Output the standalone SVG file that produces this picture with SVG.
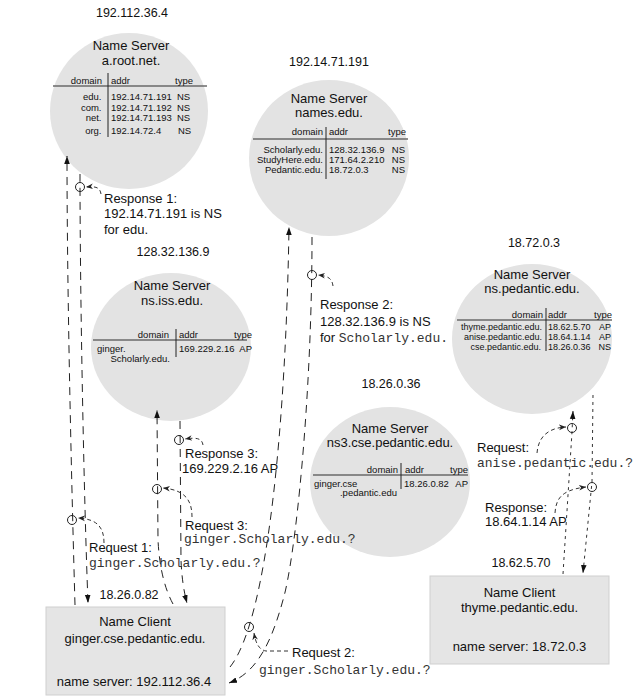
<svg xmlns="http://www.w3.org/2000/svg" width="640" height="700" viewBox="0 0 640 700">
<defs>
<style>
.t{font-family:"Liberation Sans",Arial,sans-serif;fill:#111}
.ip{font-size:12.5px;text-anchor:middle}
.ns{font-size:13px;text-anchor:middle}
.tb{font-size:9.5px}
.tc{font-size:9px}
.e{text-anchor:end}
.lb{font-size:13px}
.m{font-family:"Liberation Mono","DejaVu Sans Mono",monospace;font-size:13px;fill:#333}
.bub{fill:#e3e3e3}
.box{fill:#e5e5e5;stroke:#cfcfcf;stroke-width:1}
.hl{stroke:#6a6a6a;stroke-width:1.5}
.vl{stroke:#222;stroke-width:1}
.dash{fill:none;stroke:#222;stroke-width:1;stroke-dasharray:8 6}
.dot{fill:none;stroke:#333;stroke-width:1;stroke-dasharray:3 4}
.call{fill:none;stroke:#333;stroke-width:1;stroke-dasharray:4 3}
.mk{fill:none;stroke:#222;stroke-width:1}
</style>
<marker id="ah" viewBox="0 0 10 10" refX="10" refY="5" markerWidth="8" markerHeight="8" markerUnits="userSpaceOnUse" orient="auto"><path d="M0,1.5 L10,5 L0,8.5 z" fill="#111"/></marker>
<marker id="ch" viewBox="0 0 10 10" refX="10" refY="5" markerWidth="7" markerHeight="7" markerUnits="userSpaceOnUse" orient="auto"><path d="M0,1 L10,5 L0,9 L3,5 z" fill="#222"/></marker>
</defs>
<rect width="640" height="700" fill="#fff"/>

<g id="root">
<ellipse class="bub" cx="129" cy="111" rx="79" ry="78"/>
<text class="t ip" x="132" y="17">192.112.36.4</text>
<text class="t ns" x="131" y="50">Name Server</text>
<text class="t ns" x="131" y="65">a.root.net.</text>
<line class="hl" x1="53" y1="86" x2="207" y2="86"/>
<line class="vl" x1="108" y1="73" x2="108" y2="137"/>
<text class="t tb e" x="102" y="84">domain</text>
<text class="t tb" x="111" y="84">addr</text>
<text class="t tb" x="175" y="84">type</text>
<text class="t tb e" x="101.5" y="100">edu.</text><text class="t tb" x="111" y="100">192.14.71.191</text><text class="t tb" x="177" y="100">NS</text>
<text class="t tb e" x="101.5" y="110.5">com.</text><text class="t tb" x="111" y="110.5">192.14.71.192</text><text class="t tb" x="177" y="110.5">NS</text>
<text class="t tb e" x="101.5" y="120.5">net.</text><text class="t tb" x="111" y="120.5">192.14.71.193</text><text class="t tb" x="177" y="120.5">NS</text>
<text class="t tb e" x="101.5" y="134">org.</text><text class="t tb" x="111" y="134">192.14.72.4</text><text class="t tb" x="178" y="134">NS</text>
</g>

<g id="names">
<ellipse class="bub" cx="329" cy="158" rx="80" ry="78"/>
<text class="t ip" x="329" y="66">192.14.71.191</text>
<text class="t ns" x="329" y="103">Name Server</text>
<text class="t ns" x="329" y="117">names.edu.</text>
<line class="hl" x1="253" y1="139" x2="408" y2="139"/>
<line class="vl" x1="326" y1="127" x2="326" y2="179"/>
<text class="t tb e" x="323" y="135">domain</text>
<text class="t tb" x="329" y="135">addr</text>
<text class="t tb e" x="406" y="135">type</text>
<text class="t tb e" x="323" y="152.5">Scholarly.edu.</text><text class="t tb" x="329" y="152.5">128.32.136.9</text><text class="t tb e" x="405" y="152.5">NS</text>
<text class="t tb e" x="323" y="162.5">StudyHere.edu.</text><text class="t tb" x="329" y="162.5">171.64.2.210</text><text class="t tb e" x="405" y="162.5">NS</text>
<text class="t tb e" x="323" y="172.5">Pedantic.edu.</text><text class="t tb" x="329" y="172.5">18.72.0.3</text><text class="t tb e" x="405" y="172.5">NS</text>
</g>

<g id="iss">
<ellipse class="bub" cx="171" cy="347" rx="80" ry="74"/>
<text class="t ip" x="173" y="256">128.32.136.9</text>
<text class="t ns" x="172" y="290">Name Server</text>
<text class="t ns" x="172" y="305">ns.iss.edu.</text>
<line class="hl" x1="93" y1="340" x2="247" y2="340"/>
<line class="vl" x1="176" y1="329" x2="176" y2="357"/>
<text class="t tb e" x="169" y="337.5">domain</text>
<text class="t tb" x="179" y="337.5">addr</text>
<text class="t tb e" x="252" y="337.5">type</text>
<text class="t tb" x="97" y="351.5">ginger.</text>
<text class="t tb e" x="170" y="361.5">Scholarly.edu.</text>
<text class="t tb" x="179" y="351.5">169.229.2.16</text><text class="t tb e" x="252" y="351.5">AP</text>
</g>

<g id="pedantic">
<ellipse class="bub" cx="532" cy="339" rx="80" ry="75"/>
<text class="t ip" x="534" y="247">18.72.0.3</text>
<text class="t ns" x="532" y="279">Name Server</text>
<text class="t ns" x="532" y="293">ns.pedantic.edu.</text>
<line class="hl" x1="457" y1="320" x2="612" y2="320"/>
<line class="vl" x1="546" y1="308" x2="546" y2="351"/>
<text class="t tb e" x="543" y="318">domain</text>
<text class="t tb" x="548" y="318">addr</text>
<text class="t tb e" x="612" y="318">type</text>
<text class="t tc e" x="542" y="330">thyme.pedantic.edu.</text><text class="t tc" x="548" y="330">18.62.5.70</text><text class="t tc e" x="611" y="330">AP</text>
<text class="t tc e" x="542" y="340">anise.pedantic.edu.</text><text class="t tc" x="548" y="340">18.64.1.14</text><text class="t tc e" x="611" y="340">AP</text>
<text class="t tc e" x="541" y="350">cse.pedantic.edu.</text><text class="t tc" x="548" y="350">18.26.0.36</text><text class="t tc e" x="611" y="350">NS</text>
</g>

<g id="ns3">
<ellipse class="bub" cx="390" cy="482" rx="80" ry="75"/>
<text class="t ip" x="391" y="388">18.26.0.36</text>
<text class="t ns" x="390" y="433">Name Server</text>
<text class="t ns" x="390" y="447">ns3.cse.pedantic.edu.</text>
<line class="hl" x1="313" y1="475" x2="468" y2="475"/>
<line class="vl" x1="401" y1="463" x2="401" y2="489"/>
<text class="t tb e" x="398" y="472.5">domain</text>
<text class="t tb" x="405" y="472.5">addr</text>
<text class="t tb e" x="468" y="472.5">type</text>
<text class="t tb" x="314" y="486.5">ginger.cse</text>
<text class="t tb e" x="397" y="495.5">.pedantic.edu</text>
<text class="t tb" x="404" y="486.5">18.26.0.82</text><text class="t tb e" x="468" y="486.5">AP</text>
</g>

<g id="client-ginger">
<rect class="box" x="46" y="607" width="179" height="88"/>
<text class="t ip" x="129" y="599">18.26.0.82</text>
<text class="t ns" x="135" y="626">Name Client</text>
<text class="t ns" x="135" y="643">ginger.cse.pedantic.edu.</text>
<text class="t ns" x="134" y="686">name server: 192.112.36.4</text>
</g>

<g id="client-thyme">
<rect class="box" x="430" y="576" width="179" height="88"/>
<text class="t ip" x="521" y="567">18.62.5.70</text>
<text class="t ns" x="519.5" y="597">Name Client</text>
<text class="t ns" x="519.5" y="612">thyme.pedantic.edu.</text>
<text class="t ns" x="519.5" y="651">name server: 18.72.0.3</text>
</g>

<g id="connectors">
<path class="dash" d="M75 605 C72 500 67 300 67 156" marker-end="url(#ah)"/>
<path class="dash" d="M80 174 C80 300 84 500 88 603" marker-end="url(#ah)"/>
<path class="dash" d="M230 667 C268 620 286 420 289 227" marker-end="url(#ah)"/>
<path class="dash" d="M312 237 C312 400 295 560 283 600 C272 640 258 672 229 683" marker-end="url(#ah)"/>
<path class="dash" d="M173 604 Q160 580 158 540 L157 410" marker-end="url(#ah)"/>
<path class="dash" d="M180 421 L181 560 Q182 585 187 603" marker-end="url(#ah)"/>
<path class="dot" d="M563 574 L572 432 L573 411" marker-end="url(#ah)"/>
<path class="dot" d="M593 395 L592 482 L583 573" marker-end="url(#ah)"/>

<circle class="mk" cx="80" cy="187" r="4.5"/>
<circle class="mk" cx="72" cy="520" r="4.5"/>
<circle class="mk" cx="312" cy="275" r="4.5"/>
<circle class="mk" cx="249" cy="627" r="4.5"/>
<circle class="mk" cx="179" cy="440" r="4.5"/>
<circle class="mk" cx="157" cy="489" r="4.5"/>
<circle class="mk" cx="572" cy="428" r="4.5"/>
<circle class="mk" cx="592" cy="487" r="4.5"/>

<path class="call" d="M101 194 C100 188 97 186 86 187" marker-end="url(#ch)"/>
<path class="call" d="M104 543 C104 528 98 519 78 518" marker-end="url(#ch)"/>
<path class="call" d="M333 286 C332 279 329 276 318 275" marker-end="url(#ch)"/>
<path class="call" d="M288 651 L266 651 C260 650 256 645 254 633" marker-end="url(#ch)"/>
<path class="call" d="M203 445 C202 439 198 437 185 439" marker-end="url(#ch)"/>
<path class="call" d="M192 517 C192 500 185 490 163 488" marker-end="url(#ch)"/>
<path class="call" d="M537 453 C538 440 545 428 566 427" marker-end="url(#ch)"/>
<path class="call" d="M555 513 C556 500 560 490 586 487" marker-end="url(#ch)"/>
</g>

<g id="labels">
<text class="t lb" x="104" y="203">Response 1:</text>
<text class="t lb" x="104" y="218">192.14.71.191 is NS</text>
<text class="t lb" x="104" y="234">for edu.</text>
<text class="t lb" x="320" y="309">Response 2:</text>
<text class="t lb" x="320" y="326">128.32.136.9 is NS</text>
<text class="t lb" x="320" y="342">for <tspan class="m">Scholarly.edu.</tspan></text>
<text class="t lb" x="185" y="458">Response 3:</text>
<text class="t lb" x="182" y="473">169.229.2.16 AP</text>
<text class="t lb" x="185" y="530">Request 3:</text>
<text class="m" x="184" y="543">ginger.Scholarly.edu.?</text>
<text class="t lb" x="89" y="552">Request 1:</text>
<text class="m" x="89" y="567">ginger.Scholarly.edu.?</text>
<text class="t lb" x="292" y="657">Request 2:</text>
<text class="m" x="259" y="674">ginger.Scholarly.edu.?</text>
<text class="t lb" x="477" y="452">Request:</text>
<text class="m" x="477" y="467">anise.pedantic.edu.?</text>
<text class="t lb" x="485" y="512">Response:</text>
<text class="t lb" x="485" y="526">18.64.1.14 AP</text>
</g>
</svg>
